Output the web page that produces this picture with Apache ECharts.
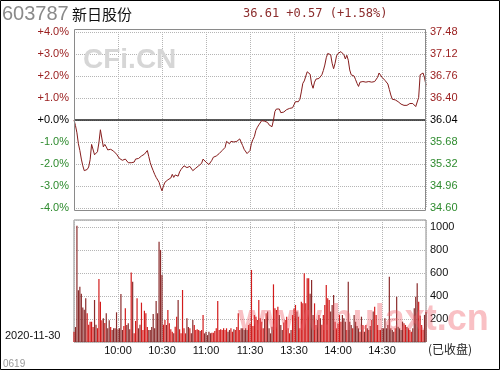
<!DOCTYPE html>
<html><head><meta charset="utf-8">
<script src="https://cdn.jsdelivr.net/npm/echarts@6/dist/echarts.min.js"></script>
<style>html,body{margin:0;padding:0;background:#fff}#c{width:500px;height:370px}</style>
</head><body><div id="c"></div>
<script>
const basePrice = 36.04;
const tickLabels = ['10:00','10:30','11:00','11:30','13:30','14:00','14:30'];
const pctLabels = ['-4.0%','-3.0%','-2.0%','-1.0%','+0.0%','+1.0%','+2.0%','+3.0%','+4.0%'];
const priceLabels = ['34.60','34.96','35.32','35.68','36.04','36.40','36.76','37.12','37.48'];
const volLabels = ['', '200', '400', '600', '800', '1000'];
// one value per minute, 9:30 .. 11:30, 13:01 .. 15:00
const price = [
36.04,35.95,35.83,35.65,35.54,35.40,35.29,35.21,35.18,35.23,
35.27,35.39,35.64,35.67,35.47,35.44,35.52,35.67,35.88,35.90,
35.60,35.64,35.60,35.55,35.54,35.56,35.55,35.53,35.50,35.48,
35.45,35.41,35.39,35.38,35.40,35.40,35.37,35.34,35.32,35.34,
35.33,35.35,35.40,35.42,35.41,35.40,35.45,35.46,35.48,35.51,
35.54,35.44,35.34,35.27,35.21,35.15,35.10,35.07,35.02,34.94,
34.88,34.96,35.02,34.99,35.06,35.07,35.09,35.15,35.10,35.14,
35.17,35.12,35.19,35.23,35.25,35.29,35.30,35.26,35.24,35.28,
35.26,35.21,35.22,35.25,35.27,35.29,35.26,35.33,35.40,35.38,
35.35,35.33,35.31,35.30,35.38,35.43,35.44,35.45,35.48,35.49,
35.51,35.54,35.57,35.59,35.69,35.68,35.65,35.69,35.69,35.68,
35.68,35.69,35.70,35.73,35.70,35.62,35.56,35.53,35.49,35.49,
35.54,35.66,35.72,35.77,35.87,35.92,35.96,35.98,36.03,36.06,
36.02,36.02,36.00,35.96,35.94,35.93,36.04,36.18,36.22,36.24,
36.22,36.16,36.13,36.17,36.20,36.21,36.22,36.23,36.22,36.24,
36.29,36.34,36.31,36.34,36.38,36.50,36.64,36.68,36.71,36.83,
36.85,36.79,36.63,36.56,36.66,36.71,36.70,36.72,36.71,36.78,
36.85,36.94,37.06,37.13,37.16,37.11,36.97,36.88,36.97,37.09,
37.13,37.15,37.16,37.13,37.11,37.04,37.10,37.02,36.86,36.78,
36.79,36.76,36.70,36.64,36.59,36.66,36.64,36.67,36.64,36.66,
36.64,36.67,36.64,36.66,36.64,36.67,36.69,36.74,36.81,36.83,
36.74,36.72,36.69,36.67,36.63,36.54,36.45,36.38,36.36,36.37,
36.36,36.34,36.32,36.30,36.28,36.28,36.29,36.28,36.30,36.31,
36.33,36.31,36.28,36.26,36.24,36.41,36.78,36.81,36.81,36.73,
36.61
];
const volume = [
 90, 130,1010, 450, 480, 420, 300, 280, 380, 250,
150, 175, 175, 130, 365, 150, 120, 547, 350, 190,
206, 165, 250, 120, 190, 130, 104, 120, 120, 258,
110, 120, 417, 104, 140, 293, 148, 162, 110, 603,
524,  75, 183, 380, 119, 150, 342, 104, 272, 249,
130, 104, 104, 130, 243, 119, 356, 249, 872, 800,
582, 150, 191, 148, 278, 162, 110,  90,  75, 133,
220, 365, 110,  75, 452, 119,  75, 206, 130, 119,
 75, 191, 148, 104, 110, 104,  95, 104, 235,  75,
 90,  60,  90,  75,  80,  80,  95, 120, 356, 104,
110, 104, 119, 104, 119,  90, 104, 119,  90, 110,
104, 130, 249, 104, 119, 119, 104, 119, 104, 148,
160, 626, 140, 235, 220, 191, 365, 206, 177, 119,
200, 249, 264, 119,  75, 133, 501, 293, 278, 307,
235, 148, 104, 170, 191, 220, 119,  75, 104, 235,
290, 322, 264, 220, 119, 350, 336, 597, 336, 553,
553, 420, 539, 235, 336, 148, 191, 235, 206, 150,
235, 322, 495, 380, 365, 264, 322, 408, 177, 119,
160, 235, 177, 235, 206, 177, 104, 524, 177, 148,
119, 235, 177, 140, 119,  90, 220, 148,  90, 148,
119, 104, 140, 191, 264, 307, 235, 148, 104, 104,
119, 119, 206, 119, 148, 568, 119, 104,  90, 120,
394, 133, 119, 104, 177, 162, 148, 130, 119, 104,
 90, 119, 293, 394, 510, 350, 230, 148, 104, 235,
260
];

const UP = '#9b2020', DOWN = '#2e8b2e';
const font = 'Liberation Sans';
const lineData = price.map((p, i) => [i, (p / basePrice - 1) * 100]);
const volData = volume.map((v, i) => ({
  value: [i, v],
  itemStyle: { color: (i === 0 || price[i] >= price[i - 1]) ? '#d21c1c' : '#8a2b2b' }
}));
function pctColor(v) { return v > 0 ? UP : (v < 0 ? DOWN : '#000'); }
const grid = { color: '#b5b5b5', type: 'dotted', width: 1 };

const chart = echarts.init(document.getElementById('c'), null, { renderer: 'canvas' });
chart.setOption({
  animation: false,
  backgroundColor: '#fff',
  grid: [
    { left: 74, right: 74, top: 32, height: 176 },
    { left: 74, right: 74, top: 220, height: 122, show: true, borderColor: '#8a8a8a', borderWidth: 1 }
  ],
  xAxis: [
    { gridIndex: 0, type: 'value', min: 0, max: 240, interval: 30,
      axisLine: { show: false }, axisTick: { show: false }, axisLabel: { show: false },
      splitLine: { show: true, lineStyle: grid } },
    { gridIndex: 1, type: 'value', min: 0, max: 240, interval: 30,
      axisLine: { show: false }, axisTick: { show: false },
      axisLabel: { show: true, margin: 3, fontSize: 11, fontFamily: font, color: '#111',
        formatter: v => (v > 0 && v < 240) ? tickLabels[v / 30 - 1] : '' },
      splitLine: { show: true, lineStyle: grid } }
  ],
  yAxis: [
    { gridIndex: 0, type: 'value', position: 'left', min: -4, max: 4, interval: 1,
      axisLine: { show: false }, axisTick: { show: false },
      axisLabel: { margin: 5, fontSize: 11, fontFamily: font, color: v => pctColor(v),
        formatter: v => pctLabels[Math.round(v) + 4] },
      splitLine: { show: true, lineStyle: grid } },
    { gridIndex: 0, type: 'value', position: 'right', min: -4, max: 4, interval: 1,
      axisLine: { show: false }, axisTick: { show: false },
      axisLabel: { margin: 4, fontSize: 11, fontFamily: font, color: v => pctColor(v),
        formatter: v => priceLabels[Math.round(v) + 4] },
      splitLine: { show: false } },
    { gridIndex: 1, type: 'value', position: 'right', min: 0, max: 1060, interval: 200,
      axisLine: { show: false }, axisTick: { show: false },
      axisLabel: { margin: 4, fontSize: 11, fontFamily: font, color: '#111', showMaxLabel: false,
        formatter: v => (v % 200 === 0 && v <= 1000) ? volLabels[v / 200] : '' },
      splitLine: { show: true, lineStyle: grid } }
  ],
  series: [
    { type: 'line', xAxisIndex: 0, yAxisIndex: 0, data: lineData, symbol: 'none',
      lineStyle: { color: '#861c1c', width: 1 }, z: 5,
      markLine: { silent: true, symbol: 'none', label: { show: false },
        lineStyle: { color: '#222', width: 1.5, type: 'solid' }, data: [{ yAxis: 0 }] } },
    { type: 'bar', xAxisIndex: 1, yAxisIndex: 2, data: volData, barWidth: 1.2, z: 3 }
  ],
  graphic: [
    { type: 'rect', shape: { x: 0.5, y: 0.5, width: 499, height: 369 },
      style: { fill: 'none', stroke: '#000', lineWidth: 1 }, z: 100 },
    { type: 'rect', shape: { x: 74.5, y: 29.5, width: 351, height: 181 },
      style: { fill: 'none', stroke: '#8a8a8a', lineWidth: 1 }, z: 100 },
    { type: 'text', x: 2, y: 14, z: 100,
      style: { text: '603787', fill: '#8a8a8a', font: '20px "Liberation Sans"', textVerticalAlign: 'middle', verticalAlign: 'middle' } },
    { type: 'text', x: 72, y: 14, z: 100,
      style: { text: '新日股份', fill: '#111', font: '15px "Noto Sans CJK SC"', textVerticalAlign: 'middle', verticalAlign: 'middle' } },
    { type: 'text', x: 243, y: 14, z: 100,
      style: { text: '36.61 +0.57 (+1.58%)', fill: '#8b2c2c', font: '12px "DejaVu Sans Mono"', textVerticalAlign: 'middle', verticalAlign: 'middle' } },
    { type: 'text', x: 83, y: 60, z: 1,
      style: { text: 'CFi.CN', fill: '#d6d6d6', font: 'bold 28px "Liberation Sans"', textVerticalAlign: 'middle', verticalAlign: 'middle' } },
    { type: 'text', x: 238, y: 320, z: 50,
      style: { text: 'www.hulaxt.cn', fill: 'rgba(240,90,100,0.38)', font: 'bold 36px "Liberation Sans"', textVerticalAlign: 'middle', verticalAlign: 'middle' } },
    { type: 'text', x: 5, y: 336, z: 100,
      style: { text: '2020-11-30', fill: '#111', font: '11px "Liberation Sans"', textVerticalAlign: 'middle', verticalAlign: 'middle' } },
    { type: 'text', x: 428, y: 349, z: 100,
      style: { text: '(已收盘)', fill: '#222', font: '12px "Noto Sans CJK SC"', textVerticalAlign: 'middle', verticalAlign: 'middle' } },
    { type: 'text', x: 3, y: 364, z: 100,
      style: { text: '0619', fill: '#9a9a9a', font: '10px "Liberation Sans"', textVerticalAlign: 'middle', verticalAlign: 'middle' } }
  ]
});
</script></body></html>
